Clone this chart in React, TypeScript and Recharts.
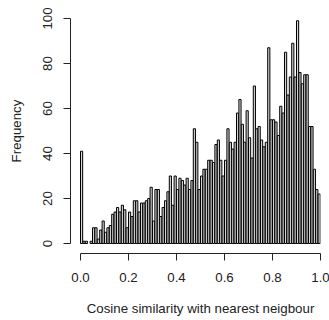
import React from "react";
import { BarChart, Bar, XAxis, YAxis, ReferenceLine, Label } from "recharts";

// Histogram counts for bins [0.00,0.01), [0.01,0.02), ... [0.99,1.00]
const counts = [
  41, 1, 1, 0, 1, 7, 7, 2, 6, 10,
  5, 7, 8, 13, 14, 16, 14, 17, 15, 7,
  14, 12, 19, 19, 14, 18, 18, 19, 20, 25,
  10, 24, 24, 12, 16, 19, 23, 30, 17, 30,
  24, 29, 28, 26, 29, 24, 28, 51, 45, 24,
  30, 33, 33, 37, 37, 36, 44, 46, 37, 30,
  37, 51, 45, 42, 45, 58, 64, 53, 45, 59,
  47, 38, 70, 51, 52, 46, 43, 45, 87, 55,
  55, 54, 48, 61, 58, 85, 66, 74, 89, 74,
  99, 76, 71, 75, 75, 52, 52, 33, 24, 22,
];
const binWidth = 0.01;
const binMids = counts.map((_, i) => (i + 0.5) * binWidth);
const xTicks = [0, 0.2, 0.4, 0.6, 0.8, 1.0];
const yTicks = [0, 20, 40, 60, 80, 100];
const xTitle = "Cosine similarity with nearest neigbour";
const yTitle = "Frequency";

const data = counts.map((c, i) => ({ x: binMids[i], count: c }));

const FONT = "'Liberation Sans', Arial, sans-serif";
const FS = 13.3;
const INK = "#222";
const X_MIN = -10 / 240;
const Y_MIN = -10 / 2.25;

const YTick = (props: any) => {
  const { x, y, payload } = props;
  return (
    <text
      x={x}
      y={y}
      transform={`rotate(-90 ${x} ${y})`}
      textAnchor="middle"
      fontSize={FS}
      fontFamily={FONT}
      fill={INK}
    >
      {payload.value}
    </text>
  );
};

const XTick = (props: any) => {
  const { x, y, payload } = props;
  return (
    <text x={x} y={y} dy={FS * 0.71} textAnchor="middle" fontSize={FS} fontFamily={FONT} fill={INK}>
      {Number(payload.value).toFixed(1)}
    </text>
  );
};

export default function App() {
  return (
    <div style={{ position: "absolute", left: 0, top: 0, width: 329, height: 320, background: "#fff" }}>
      <BarChart
        width={329}
        height={320}
        data={data}
        margin={{ top: 18.5, right: 8.5, bottom: 0, left: 0 }}
        barGap={0}
        style={{ fontFamily: FONT }}
      >
        <XAxis
          dataKey="x"
          type="number"
          domain={[X_MIN, 1]}
          allowDataOverflow
          ticks={xTicks}
          axisLine={false}
          tickSize={7}
          tickMargin={12.5}
          tickLine={{ stroke: INK }}
          tick={<XTick />}
          height={66.5}
        >
          <Label
            content={(p: any) => {
              const vb = p.viewBox;
              return (
                <text
                  x={vb.x + 10 + (vb.width - 10) / 2}
                  y={312.8}
                  textAnchor="middle"
                  fontSize={FS}
                  fontFamily={FONT}
                  fill={INK}
                >
                  {xTitle}
                </text>
              );
            }}
          />
        </XAxis>
        <YAxis
          type="number"
          domain={[Y_MIN, 100]}
          allowDataOverflow
          ticks={yTicks}
          width={70.5}
          axisLine={false}
          tickSize={7}
          tickMargin={12}
          tickLine={{ stroke: INK }}
          tick={<YTick />}
        >
          <Label
            content={() => {
              const cy = 131;
              return (
                <text
                  x={20.7}
                  y={cy}
                  transform={`rotate(-90 20.7 ${cy})`}
                  textAnchor="middle"
                  fontSize={FS}
                  fontFamily={FONT}
                  fill={INK}
                >
                  {yTitle}
                </text>
              );
            }}
          />
        </YAxis>
        <Bar
          dataKey="count"
          barSize={2.4}
          fill="#d3d3d3"
          stroke="#000"
          strokeWidth={1}
          isAnimationActive={false}
        />
        <ReferenceLine
          ifOverflow="visible"
          stroke={INK}
          strokeWidth={1}
          segment={[{ x: 0, y: Y_MIN }, { x: 1, y: Y_MIN }]}
        />
        <ReferenceLine
          ifOverflow="visible"
          stroke={INK}
          strokeWidth={1}
          segment={[{ x: X_MIN, y: 0 }, { x: X_MIN, y: 100 }]}
        />
      </BarChart>
    </div>
  );
}
